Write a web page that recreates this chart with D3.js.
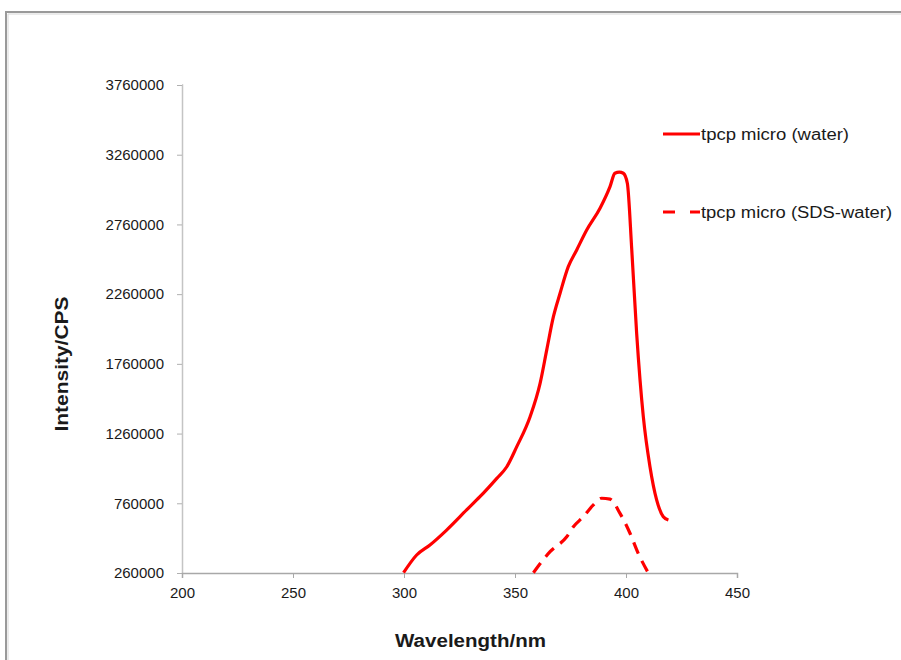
<!DOCTYPE html>
<html>
<head>
<meta charset="utf-8">
<script src="https://cdn.jsdelivr.net/npm/d3@7"></script>
<style>
  body { margin: 0; background: #fff; }
  text { font-family: "Liberation Sans", Arial, sans-serif; fill: #1a1a1a; }
</style>
</head>
<body>
<svg id="chart" width="901" height="660"></svg>
<script>
// Emission spectra, wavelength (nm) vs intensity (CPS)
const waterWavelength = [299.8, 305.7, 311.7, 319.2, 328.2, 334.2, 341.8, 346.3, 350.8, 356.8,
  361.3, 364.3, 367.3, 370.3, 374.0, 377.8, 382.3, 388.3, 392.8, 395.0, 397.0, 398.8, 400.6,
  402.6, 404.8, 407.8, 410.8, 413.8, 416.8, 419.1];
const waterIntensity = [262000, 389000, 461000, 568000, 712000, 807000, 939000, 1022000, 1166000,
  1381000, 1620000, 1860000, 2098000, 2266000, 2457000, 2577000, 2720000, 2876000, 3031000,
  3127000, 3135000, 3127000, 3055000, 2577000, 1979000, 1381000, 1022000, 784000, 664000, 640000];

const sdsWavelength = [358.3, 365.8, 373.3, 376.3, 380.8, 385.3, 389.0, 392.8, 397.3, 401.8,
  405.5, 410.0];
const sdsIntensity = [262000, 413000, 520000, 592000, 664000, 748000, 796000, 790000, 688000,
  545000, 401000, 262000];

const xTicks = [200, 250, 300, 350, 400, 450];
const yTicks = [260000, 760000, 1260000, 1760000, 2260000, 2760000, 3260000, 3760000];

const seriesNames = ["tpcp micro (water)", "tpcp micro (SDS-water)"];

const svg = d3.select("#chart");

// outer frame
svg.append("path")
  .attr("d", "M6,660V12H901")
  .attr("fill", "none")
  .attr("stroke", "#9a9a9a")
  .attr("stroke-width", 2);
svg.append("path")
  .attr("d", "M8,660V14H901")
  .attr("fill", "none")
  .attr("stroke", "#d8d8d8")
  .attr("stroke-width", 1);

const x = d3.scaleLinear().domain([200, 450]).range([182, 737]);
const y = d3.scaleLinear().domain([260000, 3760000]).range([573, 85]);

// y axis
const yAxis = svg.append("g")
  .attr("transform", `translate(${x.range()[0]},0)`)
  .call(d3.axisLeft(y).tickValues(yTicks).tickFormat(d3.format("d")).tickSize(5).tickPadding(13));
yAxis.select(".domain").attr("stroke", "#c4c4c4").attr("stroke-width", 1.5).attr("d", `M0,${y.range()[1]}H0.5V${y.range()[0]}`);
yAxis.selectAll(".tick line").attr("stroke", "#b0b0b0");
yAxis.selectAll(".tick text").attr("font-size", 15).attr("fill", "#1a1a1a")
  .attr("font-family", '"Liberation Sans", Arial, sans-serif');

// x axis
const xAxis = svg.append("g")
  .attr("transform", `translate(0,${y.range()[0]})`)
  .call(d3.axisBottom(x).tickValues(xTicks).tickFormat(d3.format("d")).tickSize(5).tickPadding(9));
xAxis.select(".domain").attr("stroke", "#a8a8a8").attr("stroke-width", 1.5);
xAxis.selectAll(".tick line").attr("stroke", "#a8a8a8");
xAxis.selectAll(".tick text").attr("font-size", 15).attr("fill", "#1a1a1a")
  .attr("font-family", '"Liberation Sans", Arial, sans-serif');

// axis titles
svg.append("text")
  .attr("x", 470.5).attr("y", 646.5)
  .attr("text-anchor", "middle")
  .attr("font-size", 18).attr("font-weight", "bold")
  .attr("textLength", 151).attr("lengthAdjust", "spacingAndGlyphs")
  .text("Wavelength/nm");

svg.append("text")
  .attr("transform", "translate(68,364) rotate(-90)")
  .attr("text-anchor", "middle")
  .attr("font-size", 18).attr("font-weight", "bold")
  .attr("textLength", 135).attr("lengthAdjust", "spacingAndGlyphs")
  .text("Intensity/CPS");

// curves
const line = d3.line()
  .x(d => x(d[0]))
  .y(d => y(d[1]))
  .curve(d3.curveMonotoneX);

svg.append("path")
  .datum(d3.zip(waterWavelength, waterIntensity))
  .attr("d", line)
  .attr("fill", "none")
  .attr("stroke", "#ff0000")
  .attr("stroke-width", 3.2)
  .attr("stroke-linejoin", "round");

svg.append("path")
  .datum(d3.zip(sdsWavelength, sdsIntensity))
  .attr("d", line)
  .attr("fill", "none")
  .attr("stroke", "#ff0000")
  .attr("stroke-width", 3.2)
  .attr("stroke-dasharray", "12,8");

// legend
const legend = svg.append("g");
const legendRows = [
  { name: seriesNames[0], y: 134, dash: null, len: 148 },
  { name: seriesNames[1], y: 212, dash: "12,15", len: 191 }
];
legendRows.forEach(r => {
  legend.append("line")
    .attr("x1", 663).attr("x2", 700)
    .attr("y1", r.y).attr("y2", r.y)
    .attr("stroke", "#ff0000")
    .attr("stroke-width", 3.2)
    .attr("stroke-dasharray", r.dash);
  legend.append("text")
    .attr("x", 701).attr("y", r.y)
    .attr("dy", "0.35em")
    .attr("font-size", 16)
    .attr("textLength", r.len).attr("lengthAdjust", "spacingAndGlyphs")
    .text(r.name);
});
</script>
</body>
</html>
